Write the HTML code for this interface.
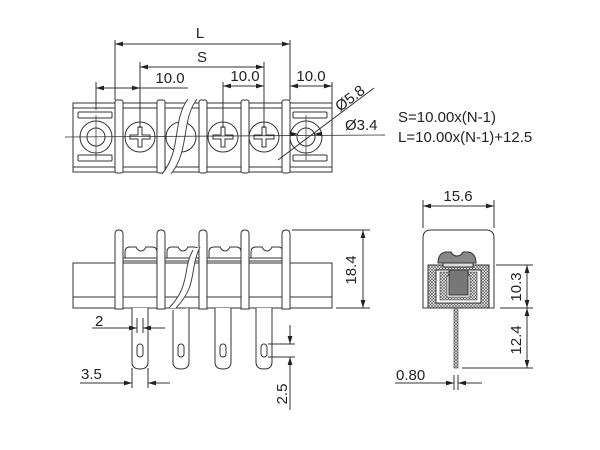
<!DOCTYPE html>
<html><head><meta charset="utf-8"><style>
html,body{margin:0;padding:0;background:#fff;width:600px;height:450px;overflow:hidden}
svg{display:block}
text{font-family:"Liberation Sans",sans-serif;fill:#222}
</style></head><body>
<svg width="600" height="450" viewBox="0 0 600 450" xmlns="http://www.w3.org/2000/svg">
<defs>
<marker id="a" viewBox="0 0 10 6" refX="10" refY="3" markerWidth="8" markerHeight="5" orient="auto-start-reverse" markerUnits="userSpaceOnUse"><path d="M0,0L10,3L0,6z" fill="#222"/></marker>
<pattern id="h" width="3" height="3" patternUnits="userSpaceOnUse"><rect width="3" height="3" fill="#eee"/><path d="M0,3L3,0M0,0L3,3" stroke="#555" stroke-width="0.6"/></pattern>
</defs>
<g stroke="#333" fill="none" stroke-width="1">
<!-- TOP VIEW -->
<rect x="73" y="103" width="259" height="69" fill="#fff"/>
<line x1="73" y1="108" x2="332" y2="108"/><line x1="73" y1="167" x2="332" y2="167"/>
<rect x="78" y="112" width="34" height="6" rx="1"/><rect x="78" y="155" width="34" height="6" rx="1"/>
<rect x="293" y="112" width="34" height="6" rx="1"/><rect x="293" y="155" width="34" height="6" rx="1"/>
<circle cx="96" cy="137" r="16"/><circle cx="96" cy="137" r="9"/>
<circle cx="306" cy="137" r="16"/><circle cx="306" cy="137" r="9"/>
<g>
<circle cx="140" cy="137" r="15"/><circle cx="181" cy="137" r="15"/><circle cx="223" cy="137" r="15"/><circle cx="264" cy="137" r="15"/>
<path d="M138,127h4v8h8v4h-8v8h-4v-8h-8v-4h8z"/>
<path d="M221,127h4v8h8v4h-8v8h-4v-8h-8v-4h8z"/>
<path d="M262,127h4v8h8v4h-8v8h-4v-8h-8v-4h8z"/>
</g>
<g fill="#fff">
<rect x="115" y="100" width="8" height="73" rx="2"/><rect x="157" y="100" width="8" height="73" rx="2"/>
<rect x="199" y="100" width="8" height="73" rx="2"/><rect x="241" y="100" width="8" height="73" rx="2"/>
<rect x="282" y="100" width="8" height="73" rx="2"/>
</g>
<path d="M188,99C172,120 182,150 162,174L171,174C190,150 181,120 197,99Z" fill="#fff" stroke="none"/>
<path d="M188,99C172,120 182,150 162,174 M197,99C181,120 190,150 171,174" stroke="#444"/>
<!-- centre line -->
<line x1="65" y1="137" x2="385" y2="135" stroke-width="0.8"/>
<line x1="96" y1="115" x2="96" y2="160" stroke-width="0.7"/>
<line x1="306" y1="115" x2="306" y2="160" stroke-width="0.7"/>
<!-- dims top -->
<line x1="115" y1="40" x2="115" y2="100"/><line x1="290" y1="40" x2="290" y2="100"/>
<line x1="140" y1="62" x2="140" y2="128"/><line x1="264" y1="62" x2="264" y2="128"/>
<line x1="96" y1="82" x2="96" y2="110"/><line x1="223" y1="82" x2="223" y2="128"/><line x1="332" y1="82" x2="332" y2="103"/>
<line x1="115" y1="44" x2="290" y2="44" marker-start="url(#a)" marker-end="url(#a)"/>
<line x1="140" y1="67" x2="264" y2="67" marker-start="url(#a)" marker-end="url(#a)"/>
<line x1="96" y1="88" x2="140" y2="88" marker-start="url(#a)" marker-end="url(#a)"/><line x1="140" y1="88" x2="188" y2="88"/>
<line x1="223" y1="86" x2="264" y2="86" marker-start="url(#a)" marker-end="url(#a)"/>
<line x1="290" y1="86" x2="332" y2="86" marker-start="url(#a)" marker-end="url(#a)"/>
<line x1="278" y1="160" x2="374" y2="88"/>
<line x1="290" y1="134" x2="298" y2="134" marker-end="url(#a)"/><line x1="322" y1="134" x2="314" y2="134" marker-end="url(#a)"/>
<!-- FRONT VIEW -->
<rect x="73" y="263" width="259" height="45" fill="#fff"/>
<line x1="73" y1="297" x2="332" y2="297"/>
<g fill="#fff">
<path d="M125,258v-6q0,-5 5,-5h6q2,4 5,4t5,-4h6q5,0 5,5v6z"/>
<path d="M167,258v-6q0,-5 5,-5h6q2,4 5,4t5,-4h6q5,0 5,5v6z"/>
<path d="M209,258v-6q0,-5 5,-5h6q2,4 5,4t5,-4h6q5,0 5,5v6z"/>
<path d="M251,258v-6q0,-5 5,-5h6q2,4 5,4t5,-4h6q5,0 5,5v6z"/>
</g>
<line x1="123" y1="258" x2="282" y2="258"/><line x1="123" y1="261" x2="282" y2="261"/>
<g fill="#fff">
<path d="M115,309V234q0,-4 4,-4t4,4V309z"/><path d="M157,309V234q0,-4 4,-4t4,4V309z"/>
<path d="M199,309V234q0,-4 4,-4t4,4V309z"/><path d="M241,309V234q0,-4 4,-4t4,4V309z"/>
<path d="M282,309V234q0,-4 4,-4t4,4V309z"/>
<path d="M132,308V362q0,7 8,7t8,-7V308"/><path d="M173,310V362q0,7 8,7t8,-7V308"/>
<path d="M215,308V362q0,7 8,7t8,-7V308"/><path d="M256,308V362q0,7 8,7t8,-7V308"/>
</g>
<rect x="137" y="344" width="6" height="13" rx="3"/><rect x="178" y="344" width="6" height="13" rx="3"/>
<rect x="220" y="344" width="6" height="13" rx="3"/><rect x="261" y="344" width="6" height="13" rx="3"/>
<path d="M193,250C182,270 191,285 169,308L176,308C198,285 189,270 200,247Z" fill="#fff" stroke="none"/>
<path d="M193,250C182,270 191,285 169,308 M200,247C189,270 198,285 176,308" stroke="#444"/>
<!-- front dims -->
<line x1="292" y1="230" x2="370" y2="230"/><line x1="336" y1="308" x2="370" y2="308"/>
<line x1="363" y1="230" x2="363" y2="308" marker-start="url(#a)" marker-end="url(#a)"/>
<line x1="137" y1="318" x2="137" y2="333"/><line x1="143" y1="318" x2="143" y2="333"/>
<line x1="92" y1="328" x2="137" y2="328" marker-end="url(#a)"/><line x1="165" y1="328" x2="143" y2="328" marker-end="url(#a)"/>
<line x1="132" y1="368" x2="132" y2="388"/><line x1="148" y1="368" x2="148" y2="388"/>
<line x1="80" y1="383" x2="132" y2="383" marker-end="url(#a)"/><line x1="170" y1="383" x2="148" y2="383" marker-end="url(#a)"/>
<line x1="268" y1="344" x2="295" y2="344"/><line x1="268" y1="357" x2="295" y2="357"/>
<line x1="290" y1="325" x2="290" y2="344" marker-end="url(#a)"/><line x1="290" y1="410" x2="290" y2="357" marker-end="url(#a)"/>
<!-- SIDE VIEW -->
<path d="M423,308V238q0,-8 8,-8h55q8,0 8,8V308z" fill="#fff"/>
<path d="M428,308V265h61v43z" fill="url(#h)"/>
<rect x="436" y="270" width="45" height="33" fill="#fff"/>
<path d="M440,272h10l-3,5v20h23v-20l-3,-5h10v28h-37z" fill="url(#h)" stroke-width="0.6"/>
<rect x="449" y="270" width="19" height="25" fill="#777"/>
<path d="M438,263q0,-10 8,-11l5,0q2,4 6,4t6,-4l5,0q8,1 8,11z" fill="#888"/>
<rect x="443" y="263" width="30" height="4" fill="#ddd"/>
<rect x="454" y="308" width="4" height="60" fill="url(#h)" stroke-width="0.6"/>
<line x1="423" y1="200" x2="423" y2="228"/><line x1="494" y1="200" x2="494" y2="228"/>
<line x1="423" y1="206" x2="494" y2="206" marker-start="url(#a)" marker-end="url(#a)"/>
<line x1="496" y1="265" x2="533" y2="265"/><line x1="500" y1="308" x2="533" y2="308"/><line x1="462" y1="368" x2="533" y2="368"/>
<line x1="527" y1="265" x2="527" y2="308" marker-start="url(#a)" marker-end="url(#a)"/>
<line x1="527" y1="308" x2="527" y2="368" marker-start="url(#a)" marker-end="url(#a)"/>
<line x1="454" y1="375" x2="454" y2="390"/><line x1="458" y1="375" x2="458" y2="390"/>
<line x1="395" y1="383" x2="454" y2="383" marker-end="url(#a)"/><line x1="482" y1="383" x2="458" y2="383" marker-end="url(#a)"/>
</g>
<g font-size="15">
<text x="200" y="38" text-anchor="middle">L</text>
<text x="202" y="62" text-anchor="middle">S</text>
<text x="170" y="83" text-anchor="middle">10.0</text>
<text x="245" y="81" text-anchor="middle">10.0</text>
<text x="311" y="81" text-anchor="middle">10.0</text>
<text x="0" y="0" transform="translate(340,112) rotate(-37)">Ø5.8</text>
<text x="345" y="130">Ø3.4</text>
<text x="398" y="122">S=10.00x(N-1)</text>
<text x="398" y="142">L=10.00x(N-1)+12.5</text>
<text x="0" y="0" transform="translate(356,270) rotate(-90)" text-anchor="middle">18.4</text>
<text x="95" y="326">2</text>
<text x="81" y="379">3.5</text>
<text x="0" y="0" transform="translate(287,394) rotate(-90)" text-anchor="middle">2.5</text>
<text x="458" y="201" text-anchor="middle">15.6</text>
<text x="0" y="0" transform="translate(521,287) rotate(-90)" text-anchor="middle">10.3</text>
<text x="0" y="0" transform="translate(521,340) rotate(-90)" text-anchor="middle">12.4</text>
<text x="396" y="380">0.80</text>
</g>
</svg>
</body></html>
